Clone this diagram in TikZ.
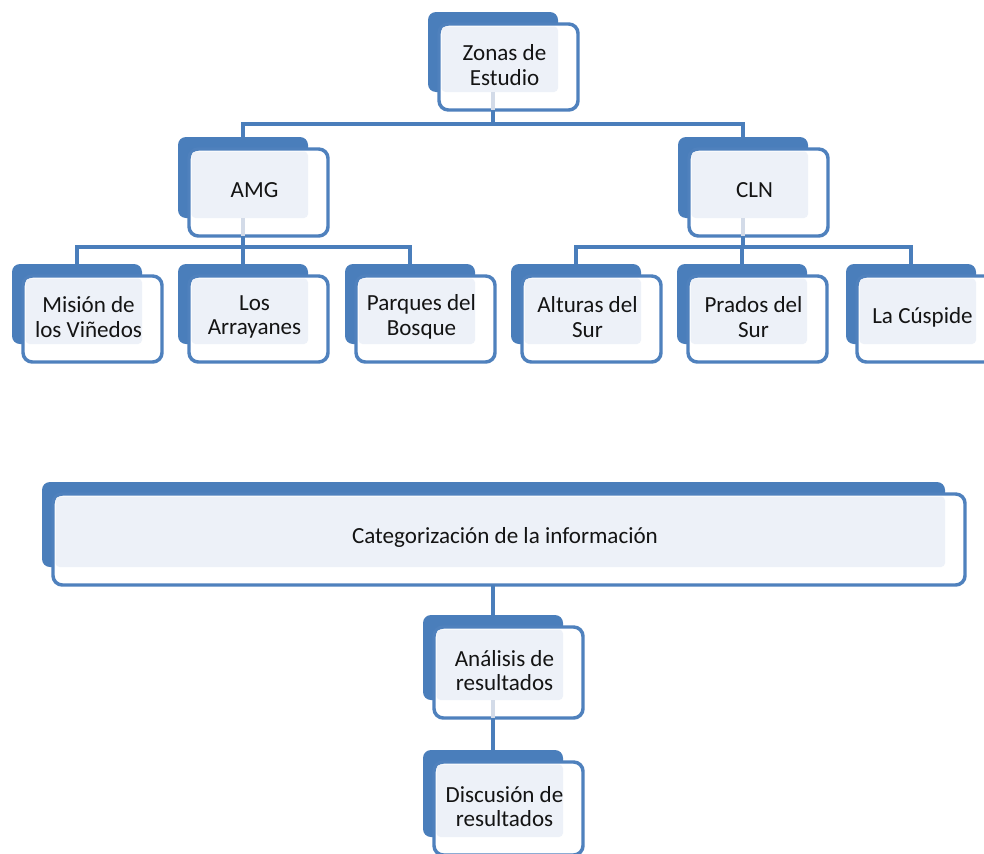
\documentclass[tikz,border=0pt]{standalone}
\usepackage{fontspec}
\setmainfont{Carlito}
\usetikzlibrary{calc}
\definecolor{dblue}{HTML}{4A7EBB}
\definecolor{fblue}{HTML}{4F81BD}
\definecolor{lfill}{HTML}{EDF1F8}
\definecolor{stubc}{HTML}{D3DBE8}
\definecolor{txtc}{HTML}{141414}
\tikzset{
  backbox/.style={draw=none, fill=dblue, rounded corners=6pt, inner sep=0pt, outer sep=0pt},
  frontbox/.style={draw=fblue, fill=white, line width=2.6pt, rounded corners=7pt, inner sep=0pt, outer sep=0pt},
  lightarea/.style={fill=lfill, rounded corners=3pt},
  txt/.style={align=center, text=txtc, font=\fontsize{17.3}{18.5}\selectfont, inner sep=0pt},
  conn/.style={draw=dblue, line width=3pt},
  stubline/.style={draw=stubc, line width=3pt}
}
\newcommand\zbox[6]{%
  \pgfmathsetmacro\bw{(#4-#2)*0.75}%
  \pgfmathsetmacro\bh{(#5-#3)*0.75}%
  \pgfmathsetmacro\fw{(#4-#2+9)*0.75}%
  \pgfmathsetmacro\fh{(#5-#3+6)*0.75}%
  \node[backbox, minimum width=\bw pt, minimum height=\bh pt] (#1b) at ({(#2+#4)/2},{(#3+#5)/2}) {};
  \node[frontbox, minimum width=\fw pt, minimum height=\fh pt] (#1) at ({(#2+#4)/2+15.5},{(#3+#5)/2+15}) {};
  \fill[lightarea] ({#2+13.5},{#3+14.5}) rectangle (#4,#5);
  \node[txt] (#1t) at ($(#1)+(-4,-2)$) {#6};
}
\begin{document}
\begin{tikzpicture}[x=0.75pt,y=-0.75pt]
\clip (0,0) rectangle (984,853);
\fill[white] (0,0) rectangle (984,853);

\zbox{Z}{428}{12}{558}{92}{Zonas de\\Estudio}
\zbox{AMG}{178}{137}{308}{218}{AMG}
\zbox{CLN}{678}{137}{808}{218}{CLN}
\zbox{MV}{12}{264}{142}{344}{Misión de\\los Viñedos}
\zbox{LA}{178}{264}{308}{344}{Los\\Arrayanes}
\zbox{PB}{345}{264}{475}{344}{Parques del\\Bosque}
\zbox{AS}{511}{264}{641}{344}{Alturas del\\Sur}
\zbox{PS}{677}{264}{807}{344}{Prados del\\Sur}
\zbox{LC}{846}{264}{976}{344}{La Cúspide}
\zbox{CAT}{42}{482}{945}{567}{Categorización de la información}
\zbox{AN}{423}{615}{563}{700}{Análisis de\\resultados}
\zbox{DI}{423}{750}{563}{837}{Discusión de\\resultados}

% stubs inside parent front boxes
\foreach \n in {Z,AMG,CLN,AN}{
  \draw[stubline] (\n b.south) -- (\n b.south |- \n.south) ;
}

% connectors
\draw[conn] (Zb.south |- Z.south) -- ++(0,14) -| (AMGb.north);
\draw[conn] (Zb.south |- Z.south) -- ++(0,14) -| (CLNb.north);
\foreach \c in {MV,LA,PB}{
  \draw[conn] (AMGb.south |- AMG.south) -- ++(0,11) -| (\c b.north);
}
\foreach \c in {AS,PS,LC}{
  \draw[conn] (CLNb.south |- CLN.south) -- ++(0,11) -| (\c b.north);
}
\draw[conn] (ANb.north |- CAT.south) -- (ANb.north);
\draw[conn] (ANb.south |- AN.south) -- (DIb.north);
\end{tikzpicture}
\end{document}
